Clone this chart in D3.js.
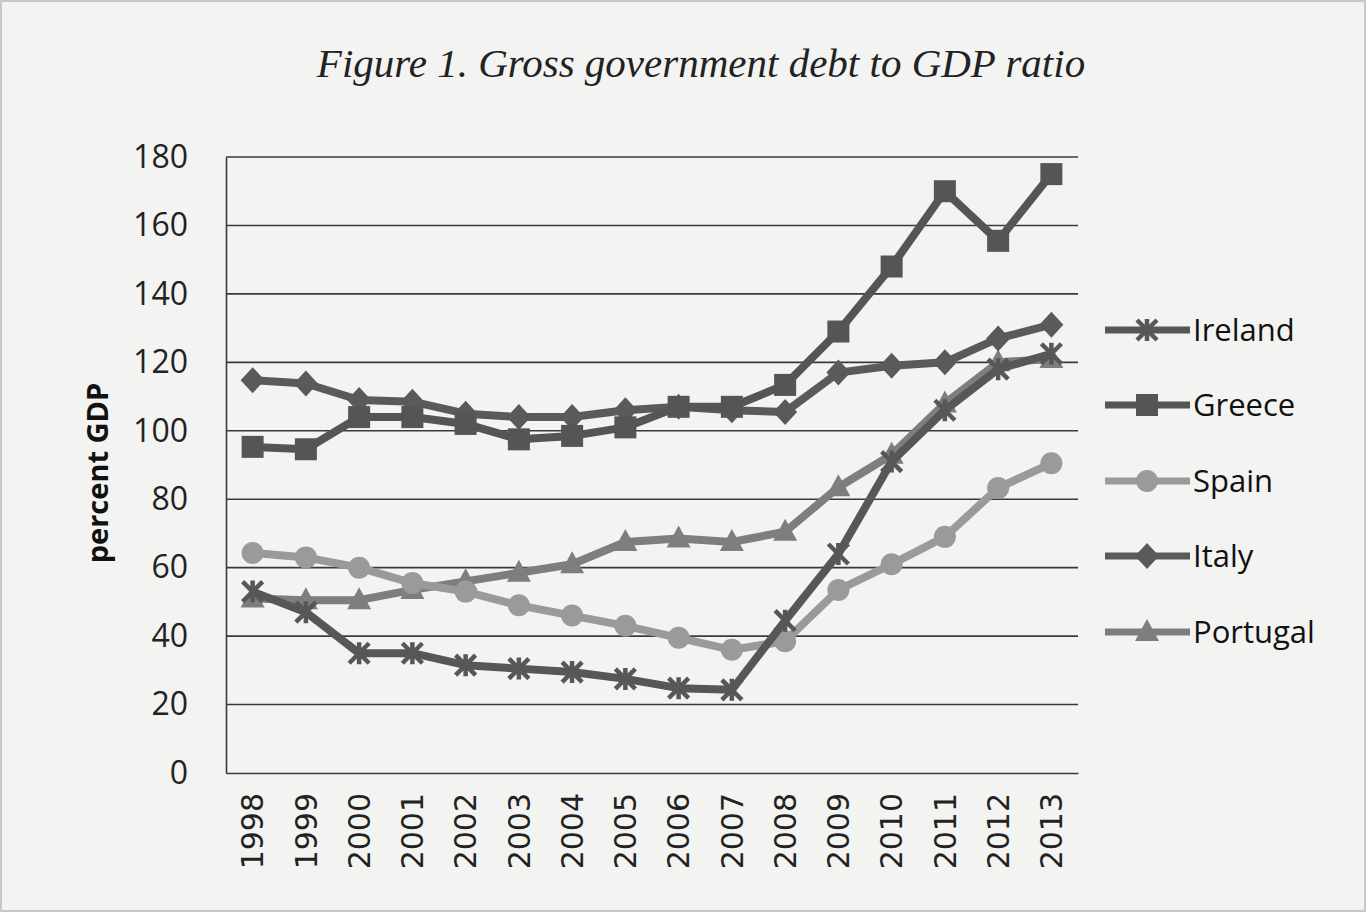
<!DOCTYPE html>
<html><head><meta charset="utf-8">
<script src="https://cdn.jsdelivr.net/npm/d3@7"></script>
<style>body{margin:0;background:#f3f3f1;}svg{display:block;}</style>
</head><body>
<svg id="c" width="1366" height="912"></svg>
<script>
const years = ["1998","1999","2000","2001","2002","2003","2004","2005","2006","2007","2008","2009","2010","2011","2012","2013"];
const ireland  = [53, 47, 35, 35, 31.5, 30.5, 29.5, 27.5, 24.8, 24.3, 44.5, 64, 91, 106, 118, 122.5];
const greece   = [95.3, 94.6, 104, 104, 102, 97.5, 98.5, 101, 107, 107, 113.4, 129, 148, 170, 155.5, 175];
const spain    = [64.3, 63, 60, 55.5, 53, 49, 46, 43, 39.5, 36, 38.5, 53.5, 61, 69, 83.3, 90.5];
const italy    = [114.8, 113.8, 109, 108.5, 105, 104, 104, 106, 107, 106, 105.5, 117, 119, 120, 127, 131];
const portugal = [51, 50.5, 50.5, 53.5, 56, 58.5, 61, 67.5, 68.5, 67.5, 70.5, 83.5, 93, 108, 120, 121];
const yTicks = [0,20,40,60,80,100,120,140,160,180];
const seriesNames = ["Ireland","Greece","Spain","Italy","Portugal"];
const seriesValues = [ireland, greece, spain, italy, portugal];
const seriesColors = ["#575757","#555555","#9a9a9a","#5a5a5a","#7e7e7e"];
const seriesMarkers = ["x","square","circle","diamond","triangle"];

const svg = d3.select("#c");
svg.append("rect").attr("x",1).attr("y",1).attr("width",1364).attr("height",910)
  .attr("fill","#f3f3f1").attr("stroke","#c8c8c8").attr("stroke-width",2);

const L = 226, R = 1078, T = 157, B = 773;
const x = d3.scaleBand().domain(years).range([L, R]);
const y = d3.scaleLinear().domain([0,180]).range([B, T]);

// gridlines
svg.append("g").selectAll("line").data(yTicks.filter(d=>d>0)).join("line")
  .attr("x1",L).attr("x2",R).attr("y1",d=>y(d)).attr("y2",d=>y(d))
  .attr("stroke","#3a3a3a").attr("stroke-width",1.6);

// y axis
const ya = svg.append("g").attr("transform",`translate(${L},0)`)
  .call(d3.axisLeft(y).tickValues(yTicks).tickSize(0).tickPadding(38));
ya.select(".domain").attr("stroke","#3a3a3a").attr("stroke-width",1.6);
ya.selectAll("text").attr("font-family","Open Sans, DejaVu Sans, sans-serif").attr("font-size",32).attr("fill","#222");

// x axis
const xa = svg.append("g").attr("transform",`translate(0,${B})`)
  .call(d3.axisBottom(x).tickSize(0).tickPadding(0));
xa.select(".domain").attr("stroke","#3a3a3a").attr("stroke-width",1.6);
xa.selectAll("text").attr("font-family","DejaVu Sans, sans-serif").attr("font-size",30).attr("fill","#222")
  .attr("text-anchor","end").attr("dy","0.36em")
  .attr("transform","translate(0,20) rotate(-90)").attr("x",0).attr("y",0);

// y title
svg.append("text").attr("transform","translate(108,473) rotate(-90)").attr("text-anchor","middle")
  .attr("font-family","Open Sans, DejaVu Sans, sans-serif").attr("font-weight","bold").attr("font-size",29).attr("fill","#111")
  .text("percent GDP");

// chart title
svg.append("text").attr("x",701).attr("y",77).attr("text-anchor","middle")
  .attr("font-family","Liberation Serif, serif").attr("font-style","italic").attr("font-size",41).attr("fill","#222")
  .text("Figure 1. Gross government debt to GDP ratio");

function marker(g, type, cx, cy, color){
  if(type==="square") g.append("rect").attr("x",cx-11).attr("y",cy-11).attr("width",22).attr("height",22).attr("fill",color);
  else if(type==="circle") g.append("circle").attr("cx",cx).attr("cy",cy).attr("r",11).attr("fill",color);
  else if(type==="diamond") g.append("path").attr("d",`M${cx},${cy-13}L${cx+12},${cy}L${cx},${cy+13}L${cx-12},${cy}Z`).attr("fill",color);
  else if(type==="triangle") g.append("path").attr("d",`M${cx},${cy-13}L${cx+12},${cy+9}L${cx-12},${cy+9}Z`).attr("fill",color);
  else if(type==="x") g.append("path").attr("d",`M${cx-10},${cy-10}L${cx+10},${cy+10}M${cx+10},${cy-10}L${cx-10},${cy+10}M${cx},${cy-11}L${cx},${cy+11}`)
      .attr("stroke",color).attr("stroke-width",4.5).attr("fill","none");
}

const line = d3.line().x((d,i)=>x(years[i])+x.bandwidth()/2).y(d=>y(d));
const order = [4,2,0,3,1];
order.forEach(si=>{
  const g = svg.append("g");
  g.append("path").datum(seriesValues[si]).attr("d",line).attr("fill","none")
    .attr("stroke",seriesColors[si]).attr("stroke-width",8).attr("stroke-linejoin","round");
  seriesValues[si].forEach((v,i)=>marker(g, seriesMarkers[si], x(years[i])+x.bandwidth()/2, y(v), seriesColors[si]));
});

// legend
const legY = [330,405,481,556,632];
seriesNames.forEach((n,i)=>{
  const g = svg.append("g");
  g.append("line").attr("x1",1105).attr("x2",1190).attr("y1",legY[i]).attr("y2",legY[i])
    .attr("stroke",seriesColors[i]).attr("stroke-width",7);
  marker(g, seriesMarkers[i], 1147, legY[i], seriesColors[i]);
  g.append("text").attr("x",1193).attr("y",legY[i]).attr("dy","0.36em")
    .attr("font-family","Open Sans, sans-serif").attr("font-size",31).attr("fill","#111").text(n);
});
</script>
</body></html>
